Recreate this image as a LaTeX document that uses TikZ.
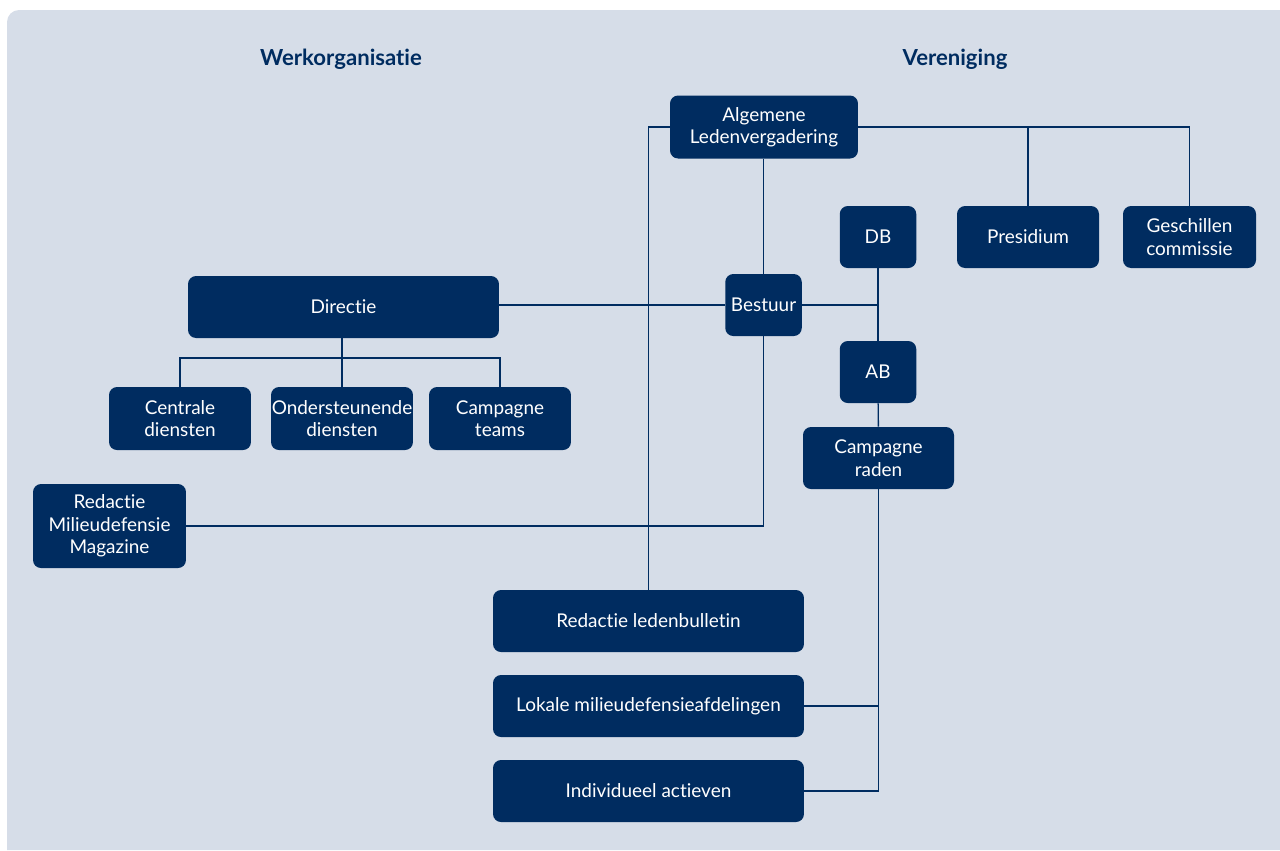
\documentclass[tikz,border=0pt]{standalone}
\usepackage{fontspec}
\setmainfont{Lato}[Ligatures=NoCommon]
\usetikzlibrary{positioning}
\definecolor{mdnavy}{RGB}{0,44,96}
\definecolor{mdback}{RGB}{214,221,232}
\tikzset{org node/.style={rectangle,rounded corners=0.16cm,fill=mdnavy,text=white,align=center,
    minimum height=1.24cm,inner sep=0pt,font=\fontsize{10.8}{12.8}\selectfont},
  wide node/.style={org node,minimum width=6.22cm},
  mid node/.style={org node,minimum width=2.84cm},
  small node/.style={org node,minimum width=1.53cm},
  head/.style={text=mdnavy,font=\fontsize{12.6}{15}\selectfont\bfseries},
}

\begin{document}
\begin{tikzpicture}[x=0.02cm,y=-0.02cm]
				\useasboundingbox (0,0) rectangle (1280,850);
				\fill[mdback] (7,850) -- (7,22) arc[start angle=180,end angle=90,radius=0.24cm] -- (1280,10) -- (1280,850) -- cycle;
				
				\node[head] (werk) at (341,59) {Werkorganisatie};
				\node[head] (ver) at (955,59) {Vereniging};
				
				\node[org node,minimum width=3.76cm,minimum height=1.26cm] (alv) at (764,127) {Algemene\\Ledenvergadering};
				\node[small node] (db) at (878,237) {DB};
				\node[mid node] (presidium) at (1028,237) {Presidium};
				\node[org node,minimum width=2.66cm] (geschil) at (1189.5,237) {Geschillen\\commissie};
				\node[wide node] (directie) at (343.5,307) {Directie};
				\node[small node] (bestuur) at (763.5,305) {Bestuur};
				\node[small node] (ab) at (878,372) {AB};
				\node[mid node,minimum height=1.26cm] (centrale) at (180,418.5) {Centrale\\diensten};
				\node[mid node,minimum height=1.26cm] (ondersteun) at (342,418.5) {Ondersteunende\\diensten};
				\node[mid node,minimum height=1.26cm] (teams) at (500,418.5) {Campagne\\teams};
				\node[org node,minimum width=3.02cm] (raden) at (878.5,458) {Campagne\\raden};
				\node[org node,minimum width=3.06cm,minimum height=1.68cm] (magazine) at (109.5,526) {Redactie\\Milieudefensie\\Magazine};
				\node[wide node] (bulletin) at (648.5,621) {Redactie ledenbulletin};
				\node[wide node] (lokale) at (648.5,706) {Lokale milieudefensieafdelingen};
				\node[wide node] (individu) at (648.5,791) {Individueel actieven};
				
				\coordinate (split) at (342,358);
				
				\begin{scope}[draw=mdnavy,line width=0.8pt]
				\draw (alv.west) -| (bulletin.north);
				\draw (alv.east) -| (geschil.north);
				\draw (alv.east) -| (presidium.north);
				\draw (alv.south -| bestuur) -- (bestuur.north);
				\draw (directie.east |- bestuur) -- (bestuur.west);
				\draw (bestuur.east) -| (db.south);
				\draw (bestuur.south) |- (magazine.east);
				\draw (directie.south -| split) -- (split);
				\draw (centrale.north) |- (split) -| (teams.north);
				\draw (split) -- (ondersteun.north);
				\path[draw]
				(db) edge (ab)
				(ab) edge (raden);
				\draw (raden.south) |- (individu.east);
				\draw (raden.south |- lokale.east) -- (lokale.east);
				\end{scope}
				
			\end{tikzpicture}
\end{document}
